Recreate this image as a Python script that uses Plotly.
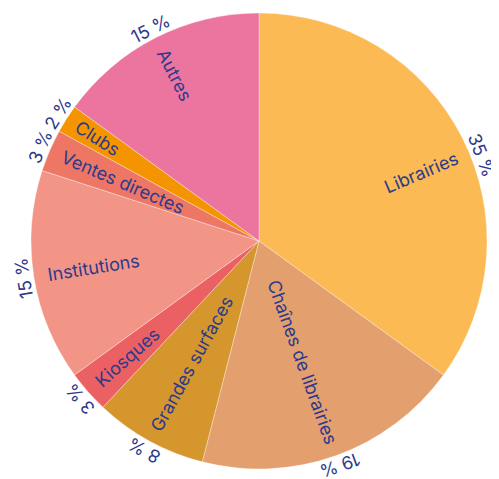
import math
import plotly.graph_objects as go

categories = ["Librairies", "Chaînes de librairies", "Grandes surfaces", "Kiosques",
              "Institutions", "Ventes directes", "Clubs", "Autres"]
values = [35, 19, 8, 3, 15, 3, 2, 15]
colors = ["#FBBA53", "#E39F6E", "#D5962E", "#EA6063",
          "#F29587", "#EE7665", "#F39400", "#EC759F"]
pct_labels = [f"{v} %" for v in values]

TXT = "#2D3A8C"
FONT = "Inter"
FS = 18

W, H = 499, 479
OFF = 8  # page body margin
L, T = 31 - OFF, 13 - OFF
R, B = W - L - 456, H - T - 456

# small angular nudges (degrees) for label placement, as in the original layout
label_shift = {"Librairies": 4}
pct_shift = {"Librairies": 6}

# approximate glyph advance widths (em) for label centring
CW = {" ": 0.28, "A": 0.70, "C": 0.72, "G": 0.74, "I": 0.28, "K": 0.67, "L": 0.55,
      "V": 0.70, "a": 0.56, "b": 0.60, "c": 0.56, "d": 0.60, "e": 0.58, "f": 0.36,
      "i": 0.24, "î": 0.26, "l": 0.24, "n": 0.60, "o": 0.59, "q": 0.60, "r": 0.38,
      "s": 0.53, "t": 0.36, "u": 0.60}


def text_w(s):
    return sum(CW.get(c, 0.58) for c in s) * FS


fig = go.Figure(go.Pie(
    labels=categories, values=values, sort=False, direction="clockwise", rotation=0,
    marker=dict(colors=colors, line=dict(color="rgba(255,255,255,0.55)", width=0.6)),
    textinfo="none", hoverinfo="label+percent", showlegend=False,
))

pw = W - L - R
ph = H - T - B
R0 = min(pw, ph) / 2
total = sum(values)
cum = 0
annotations = []
for lab, v, txt in zip(categories, values, pct_labels):
    mid = (cum + v / 2) / total * 360
    cum += v
    # outer percent label, tangential
    a = mid + pct_shift.get(lab, 0)
    th = math.radians(a)
    rp = R0 + 10.5
    annotations.append(dict(x=0.5 + rp * math.sin(th) / pw, y=0.5 + rp * math.cos(th) / ph,
                            xref="paper", yref="paper", text=txt, showarrow=False,
                            textangle=a if a <= 180 else a - 360,
                            font=dict(family=FONT, size=FS, color=TXT),
                            xanchor="center", yanchor="middle"))
    # inside category label, radial, outer end near the rim
    a = mid + label_shift.get(lab, 0)
    th = math.radians(a)
    rl = R0 - 13 - text_w(lab) / 2
    ang = a - 90 if a <= 180 else a - 270
    annotations.append(dict(x=0.5 + rl * math.sin(th) / pw, y=0.5 + rl * math.cos(th) / ph,
                            xref="paper", yref="paper", text=lab, showarrow=False,
                            textangle=ang,
                            font=dict(family=FONT, size=FS, color=TXT),
                            xanchor="center", yanchor="middle"))

fig.update_layout(width=W, height=H, margin=dict(l=L, r=R, t=T, b=B),
                  paper_bgcolor="white", plot_bgcolor="white",
                  annotations=annotations)
fig.write_html("out.html")
